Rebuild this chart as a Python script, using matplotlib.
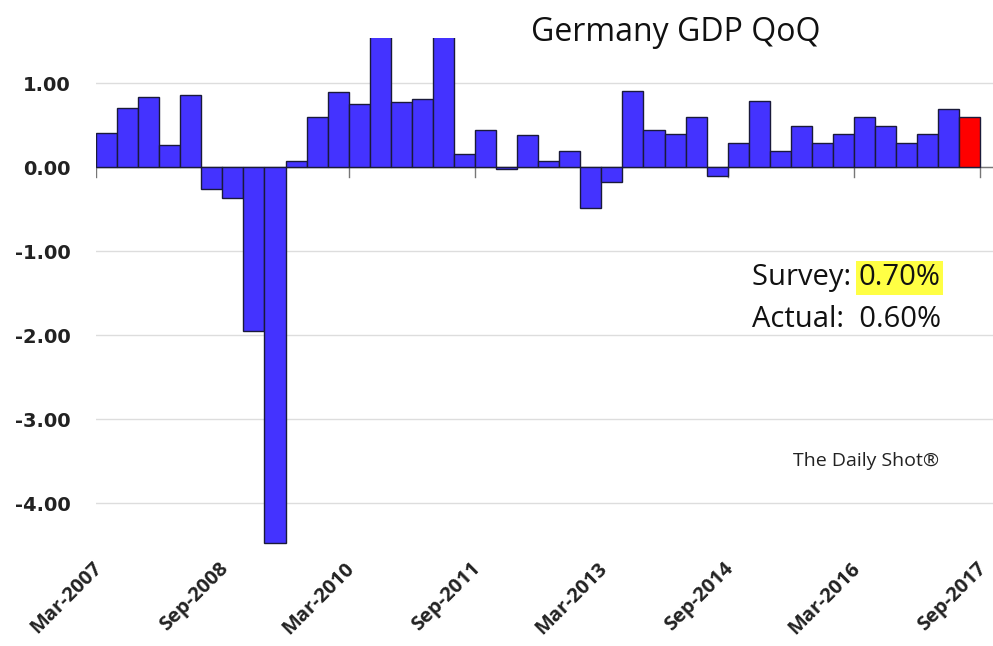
#!/usr/bin/env python3

import numpy as np
import matplotlib
matplotlib.use('Agg')
import matplotlib.pyplot as plt


# Germany GDP QoQ (%), quarterly, Jun-2007 .. Sep-2017
quarters = ['Jun-2007', 'Sep-2007', 'Dec-2007', 'Mar-2008', 'Jun-2008', 'Sep-2008',
            'Dec-2008', 'Mar-2009', 'Jun-2009', 'Sep-2009', 'Dec-2009', 'Mar-2010',
            'Jun-2010', 'Sep-2010', 'Dec-2010', 'Mar-2011', 'Jun-2011', 'Sep-2011',
            'Dec-2011', 'Mar-2012', 'Jun-2012', 'Sep-2012', 'Dec-2012', 'Mar-2013',
            'Jun-2013', 'Sep-2013', 'Dec-2013', 'Mar-2014', 'Jun-2014', 'Sep-2014',
            'Dec-2014', 'Mar-2015', 'Jun-2015', 'Sep-2015', 'Dec-2015', 'Mar-2016',
            'Jun-2016', 'Sep-2016', 'Dec-2016', 'Mar-2017', 'Jun-2017', 'Sep-2017']
gdp_qoq = [0.41, 0.71, 0.84, 0.27, 0.86, -0.26,
           -0.37, -1.95, -4.48, 0.08, 0.60, 0.90,
           0.76, 1.90, 0.78, 0.81, 1.70, 0.16,
           0.44, -0.02, 0.38, 0.08, 0.19, -0.49,
           -0.18, 0.91, 0.44, 0.40, 0.60, -0.10,
           0.29, 0.79, 0.19, 0.49, 0.29, 0.40,
           0.60, 0.49, 0.29, 0.40, 0.69, 0.60]

tick_labels = ['Mar-2007', 'Sep-2008', 'Mar-2010', 'Sep-2011',
               'Mar-2013', 'Sep-2014', 'Mar-2016', 'Sep-2017']
y_ticks = [1.0, 0.0, -1.0, -2.0, -3.0, -4.0]

survey = 0.70
actual = 0.60


fig = plt.figure(figsize=(9.93, 6.46), dpi=100)
ax = fig.add_axes([0.0967, 0.1563, 0.9033, 0.7847])

x = np.arange(len(gdp_qoq)) + 0.5
colors = ['#4433ff'] * (len(gdp_qoq) - 1) + ['#ff0000']
ax.bar(x, gdp_qoq, width=1.0, color=colors, edgecolor='#1a1a3a', linewidth=1.0, zorder=3)

ax.set_xlim(0, len(gdp_qoq) + 0.6)
ax.set_ylim(-4.50, 1.54)

for s in ['top', 'right', 'left', 'bottom']:
    ax.spines[s].set_visible(False)

# horizontal gridlines + zero axis line
ax.set_yticks(y_ticks)
ax.set_yticklabels(['%.2f' % v for v in y_ticks], fontsize=14, fontweight='bold', color='#222222')
ax.tick_params(axis='y', length=0, pad=18)
ax.yaxis.grid(True, color='#dddddd', linewidth=1.0, zorder=0)
ax.axhline(0, color='#777777', linewidth=1.0, zorder=2)

# category ticks every 6 quarters on the zero line
tick_pos = np.arange(0, len(gdp_qoq) + 1, 6)
ax.set_xticks([])
for tp in tick_pos:
    ax.plot([tp, tp], [0, -0.12], color='#777777', linewidth=1.0, zorder=2)
for tp, lab in zip(tick_pos, tick_labels):
    ax.text(tp - 0.2, -4.66, lab, rotation=45, ha='right', va='top',
            rotation_mode='anchor', fontsize=14.5, fontweight='bold',
            family='Open Sans', color='#222222')

fig.text(0.681, 0.950, 'Germany GDP QoQ', ha='center', va='center',
         fontsize=23, family='Open Sans', color='#111111')

t_survey = fig.text(0.757, 0.570, 'Survey: ', ha='left', va='center', fontsize=21,
                    family='Open Sans', color='#111111')
fig.canvas.draw()
bb = t_survey.get_window_extent(renderer=fig.canvas.get_renderer())
x_next = bb.x1 / fig.bbox.width
fig.text(x_next, 0.570, '%.2f%%' % survey, ha='left', va='center', fontsize=21,
         family='Open Sans', color='#111111',
         bbox=dict(boxstyle='square,pad=0.08', facecolor='#ffff44', edgecolor='none'))
fig.text(0.757, 0.506, 'Actual:  %.2f%%' % actual, ha='left', va='center', fontsize=21,
         family='Open Sans', color='#111111')

fig.text(0.799, 0.287, 'The Daily Shot\u00ae', ha='left', va='center', fontsize=14,
         family='Open Sans', color='#222222')

fig.savefig('out.png', dpi=100)
